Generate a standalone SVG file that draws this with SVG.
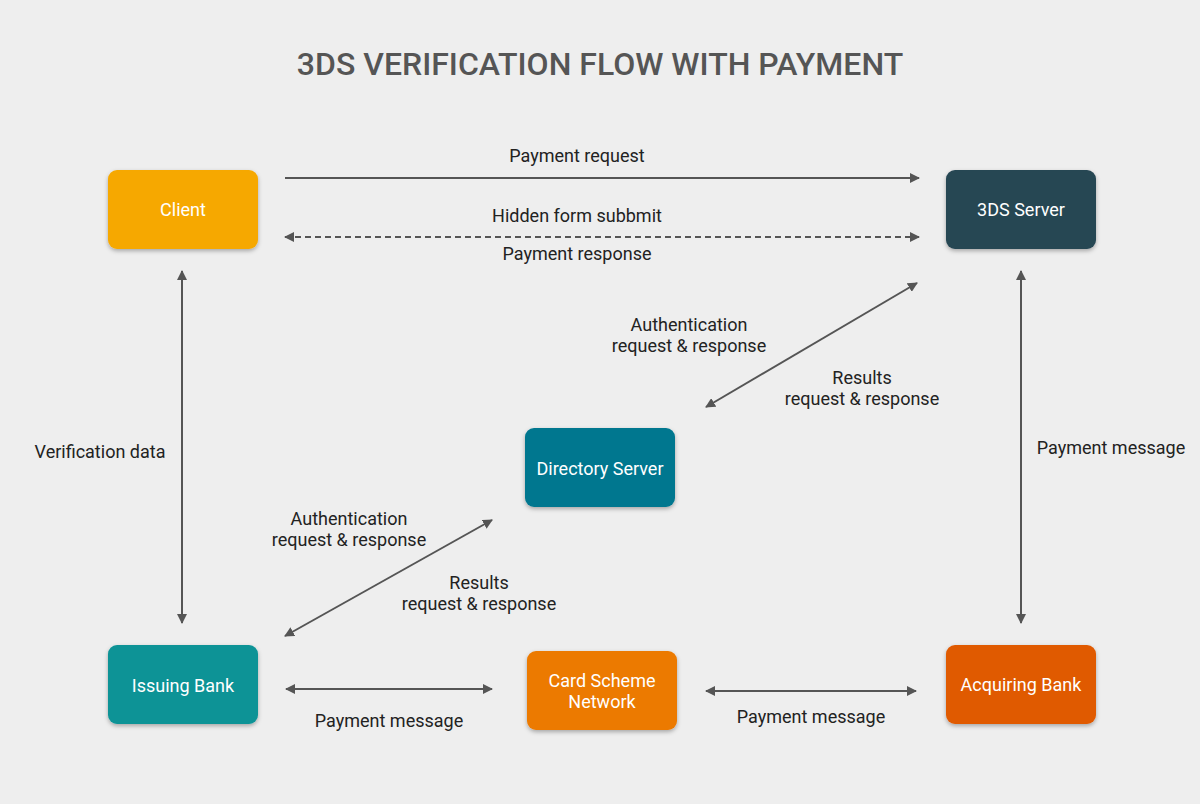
<svg xmlns="http://www.w3.org/2000/svg" width="1200" height="804" viewBox="0 0 1200 804">
<style>
.title{font-family:Roboto,"Liberation Sans",sans-serif;font-size:32px;font-weight:500;fill:#555;text-anchor:middle}
.lbl{font-family:Roboto,"Liberation Sans",sans-serif;font-size:18px;fill:#222;text-anchor:middle}
.ntx{font-family:Roboto,"Liberation Sans",sans-serif;font-size:18px;fill:#fff;text-anchor:middle}
.ln{stroke:#555;stroke-width:2;fill:none}
.dash{stroke-dasharray:6 4}
</style>
<defs>
<marker id="ah" viewBox="0 0 10 10" refX="9" refY="5" markerWidth="10" markerHeight="10" markerUnits="userSpaceOnUse" orient="auto-start-reverse">
<path d="M0,0 L10,5 L0,10 z" fill="#555"/>
</marker>
<filter id="sh" x="-10%" y="-10%" width="120%" height="130%">
<feDropShadow dx="0" dy="2" stdDeviation="2" flood-color="#000" flood-opacity="0.3"/>
</filter>
</defs>
<rect width="1200" height="804" fill="#eeeeee"/>
<text class="title" x="600" y="75">3DS VERIFICATION FLOW WITH PAYMENT</text>

<g id="client"><rect x="108" y="170" width="150" height="79" rx="9" fill="#f6a800" filter="url(#sh)"/><text class="ntx" x="183" y="216">Client</text></g>
<g id="server3ds"><rect x="946" y="170" width="150" height="79" rx="9" fill="#264653" filter="url(#sh)"/><text class="ntx" x="1021" y="216">3DS Server</text></g>
<g id="directory"><rect x="525" y="428" width="150" height="79" rx="9" fill="#00778f" filter="url(#sh)"/><text class="ntx" x="600" y="475">Directory Server</text></g>
<g id="issuing"><rect x="108" y="645" width="150" height="79" rx="9" fill="#0a9396" filter="url(#sh)"/><text class="ntx" x="183" y="692">Issuing Bank</text></g>
<g id="cardscheme"><rect x="527" y="651" width="150" height="79" rx="9" fill="#ec7a00" filter="url(#sh)"/><text class="ntx" x="602" y="687">Card Scheme</text><text class="ntx" x="602" y="708">Network</text></g>
<g id="acquiring"><rect x="946" y="645" width="150" height="79" rx="9" fill="#e05a00" filter="url(#sh)"/><text class="ntx" x="1021" y="691">Acquiring Bank</text></g>

<g id="connectors">
<line class="ln" x1="285" y1="178" x2="919" y2="178" marker-end="url(#ah)"/>
<line class="ln dash" x1="285" y1="237" x2="919" y2="237" marker-start="url(#ah)" marker-end="url(#ah)"/>
<line class="ln" x1="182" y1="271" x2="182" y2="623" marker-start="url(#ah)" marker-end="url(#ah)"/>
<line class="ln" x1="1021" y1="271" x2="1021" y2="623" marker-start="url(#ah)" marker-end="url(#ah)"/>
<line class="ln" x1="917" y1="283" x2="706" y2="407" marker-start="url(#ah)" marker-end="url(#ah)"/>
<line class="ln" x1="492" y1="520" x2="285" y2="636" marker-start="url(#ah)" marker-end="url(#ah)"/>
<line class="ln" x1="286" y1="689" x2="492" y2="689" marker-start="url(#ah)" marker-end="url(#ah)"/>
<line class="ln" x1="706" y1="691" x2="916" y2="691" marker-start="url(#ah)" marker-end="url(#ah)"/>
</g>

<g id="labels">
<text class="lbl" x="577" y="162">Payment request</text>
<text class="lbl" x="577" y="222">Hidden form subbmit</text>
<text class="lbl" x="577" y="260">Payment response</text>
<text class="lbl" x="689" y="331">Authentication</text>
<text class="lbl" x="689" y="352">request &amp; response</text>
<text class="lbl" x="862" y="384">Results</text>
<text class="lbl" x="862" y="405">request &amp; response</text>
<text class="lbl" x="100" y="458">Verification data</text>
<text class="lbl" x="1111" y="454">Payment message</text>
<text class="lbl" x="349" y="525">Authentication</text>
<text class="lbl" x="349" y="546">request &amp; response</text>
<text class="lbl" x="479" y="589">Results</text>
<text class="lbl" x="479" y="610">request &amp; response</text>
<text class="lbl" x="389" y="727">Payment message</text>
<text class="lbl" x="811" y="723">Payment message</text>
</g>
</svg>
